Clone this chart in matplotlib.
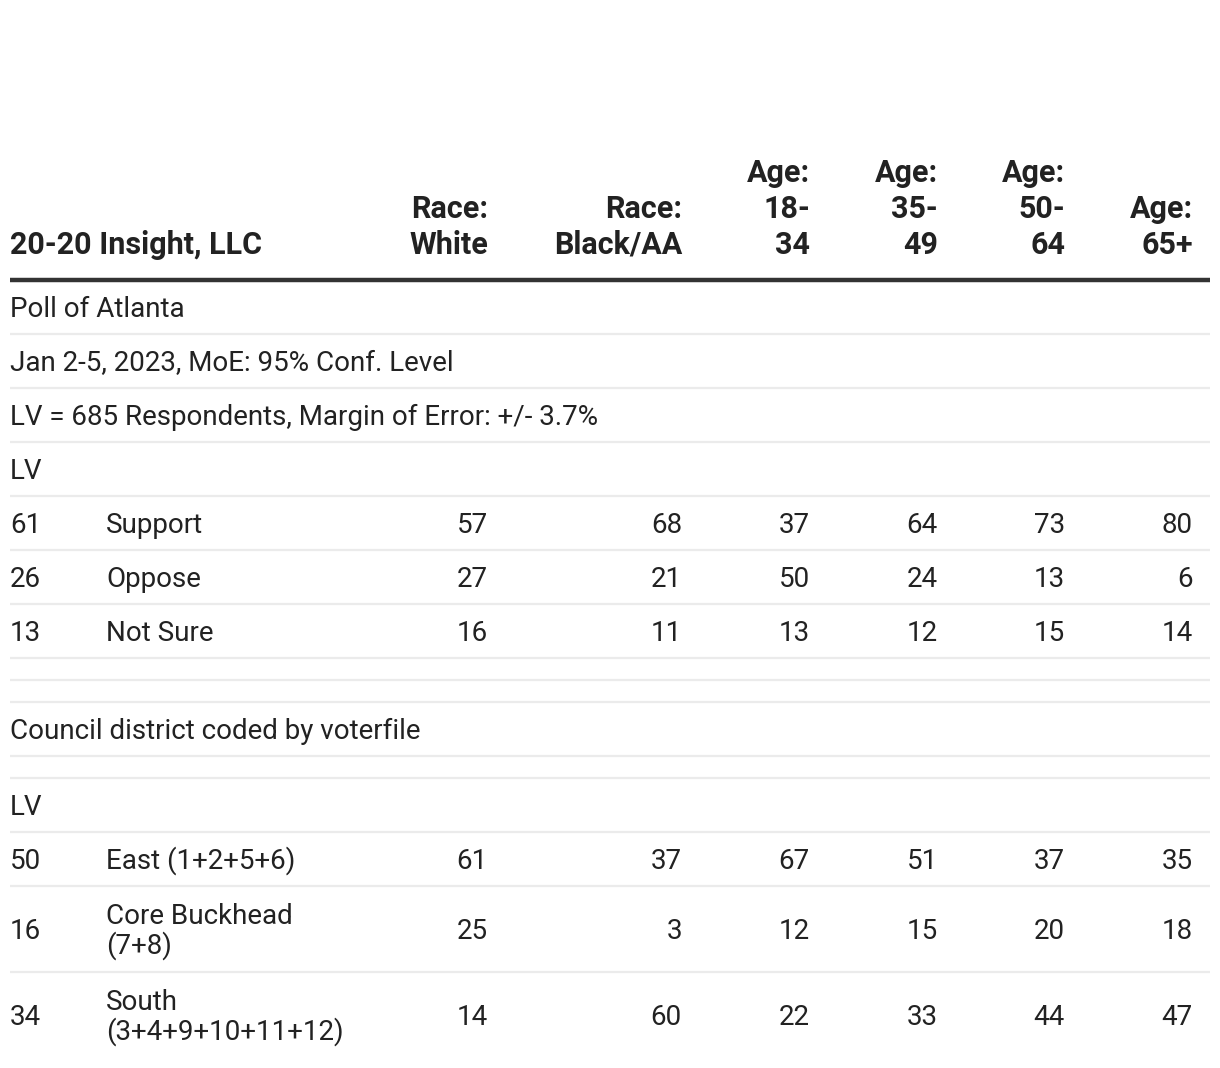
import matplotlib.pyplot as plt

plt.rcParams['font.family'] = ['Roboto', 'DejaVu Sans']

# Table content
title = "20-20 Insight, LLC"
col_headers = [["Race:", "White"], ["Race:", "Black/AA"], ["Age:", "18-", "34"],
               ["Age:", "35-", "49"], ["Age:", "50-", "64"], ["Age:", "65+"]]

# rows: (first cell, label lines, values)
section1_notes = ["Poll of Atlanta", "Jan 2-5, 2023, MoE: 95% Conf. Level",
                  "LV = 685 Respondents, Margin of Error: +/- 3.7%", "LV"]
q1_total = ["61", "26", "13"]
q1_labels = [["Support"], ["Oppose"], ["Not Sure"]]
q1_values = [[57, 68, 37, 64, 73, 80],
             [27, 21, 50, 24, 13, 6],
             [16, 11, 13, 12, 15, 14]]

section2_notes = ["Council district coded by voterfile", "", "LV"]
q2_total = ["50", "16", "34"]
q2_labels = [["East (1+2+5+6)"], ["Core Buckhead", "(7+8)"], ["South", "(3+4+9+10+11+12)"]]
q2_values = [[61, 37, 67, 51, 37, 35],
             [25, 3, 12, 15, 20, 18],
             [14, 60, 22, 33, 44, 47]]

W, H = 1220, 1068
fig = plt.figure(figsize=(W / 100, H / 100), dpi=100)
ax = fig.add_axes([0, 0, 1, 1])
ax.set_xlim(0, W)
ax.set_ylim(H, 0)
ax.axis('off')

txt = '#222222'
fs = 20
hfs = 22
left, right = 10, 1210
label_x = 106
col_right = [488, 682, 810, 938, 1065, 1193]

# header
header_base = 254
line_h = 36
ax.text(left, header_base, title, ha='left', va='baseline', fontsize=hfs,
        fontweight='bold', color=txt)
for x, lines in zip(col_right, col_headers):
    for i, s in enumerate(reversed(lines)):
        ax.text(x, header_base - i * line_h, s, ha='right', va='baseline',
                fontsize=hfs, fontweight='bold', color=txt)
ax.plot([left, right], [280, 280], color='#333333', lw=3.2, solid_capstyle='butt')

sep_color = '#ebebeb'


def sep(yy):
    ax.plot([left, right], [yy, yy], color=sep_color, lw=1.6, solid_capstyle='butt')


def note_row(s, h=54):
    global y
    c = y + h / 2
    if s:
        ax.text(left, c + 10, s, ha='left', va='baseline', fontsize=fs, color=txt)
    y += h
    sep(y)


def data_row(tot, lab, vals):
    global y
    h = 54 if len(lab) == 1 else 86
    c = y + h / 2
    ax.text(left, c + 10, tot, ha='left', va='baseline', fontsize=fs, color=txt)
    n = len(lab)
    for i, s in enumerate(lab):
        ax.text(label_x, c + 10 + (i - (n - 1) / 2) * 30, s, ha='left',
                va='baseline', fontsize=fs, color=txt)
    for x, v in zip(col_right, vals):
        ax.text(x, c + 10, str(v), ha='right', va='baseline', fontsize=fs, color=txt)
    y += h
    if y < 1000:
        sep(y)


y = 280
for s in section1_notes:
    note_row(s)
for t, l, v in zip(q1_total, q1_labels, q1_values):
    data_row(t, l, v)
note_row("", 22)
note_row("", 22)
note_row(section2_notes[0])
note_row(section2_notes[1], 22)
note_row(section2_notes[2])
for t, l, v in zip(q2_total, q2_labels, q2_values):
    data_row(t, l, v)

fig.savefig('out.png', dpi=100, facecolor='white')
